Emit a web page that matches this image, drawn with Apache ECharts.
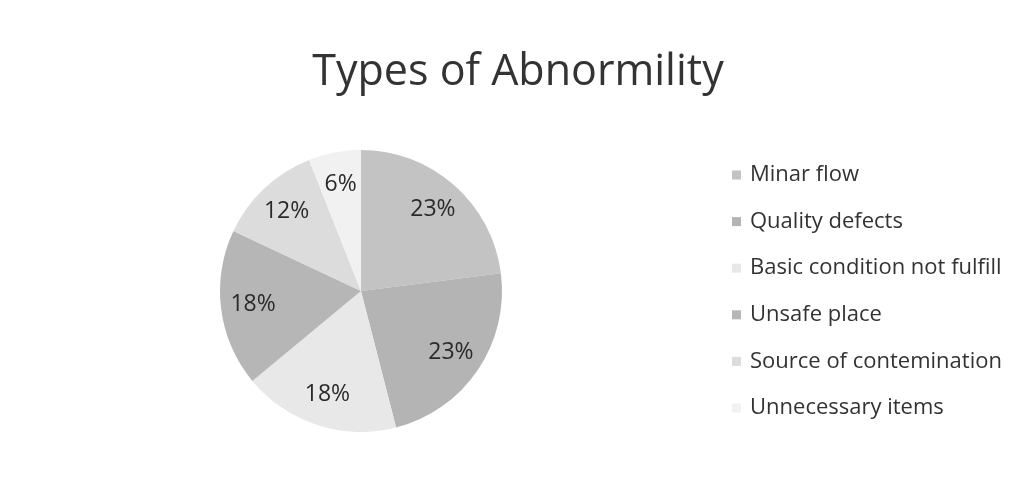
<!DOCTYPE html>
<html>
<head>
<meta charset="utf-8">
<title>Types of Abnormility</title>
<script src="https://cdn.jsdelivr.net/npm/echarts@6/dist/echarts.min.js"></script>
<style>
  html, body { margin: 0; padding: 0; background: #ffffff; }
  #chart { width: 1036px; height: 480px; }
</style>
</head>
<body>
<div id="chart"></div>
<script>
// Abnormality categories and their share (percent)
const categories = [
  'Minar flow',
  'Quality defects',
  'Basic condition not fulfill',
  'Unsafe place',
  'Source of contemination',
  'Unnecessary items'
];
const shares = [23, 23, 18, 18, 12, 6];
const sliceColors = ['#c3c3c3', '#b4b4b4', '#e8e8e8', '#b6b6b6', '#dcdcdc', '#f1f1f1'];

const pieData = categories.map((name, i) => ({
  name: name,
  value: shares[i],
  itemStyle: { color: sliceColors[i] }
}));

const center = [361, 291];
const radius = 141;
const fontFamily = '"Open Sans", "Noto Sans", sans-serif';

const chart = echarts.init(document.getElementById('chart'), null, { renderer: 'canvas' });

chart.setOption({
  backgroundColor: '#ffffff',
  animation: false,
  title: {
    text: 'Types of Abnormility',
    left: 'center',
    top: 46,
    textStyle: {
      fontFamily: fontFamily,
      fontSize: 43,
      fontWeight: 'normal',
      color: '#333333'
    }
  },
  legend: {
    orient: 'vertical',
    left: 727,
    top: 159,
    itemWidth: 9,
    itemHeight: 9,
    itemGap: 24.6,
    icon: 'rect',
    data: categories,
    textStyle: {
      fontFamily: fontFamily,
      fontSize: 22,
      color: '#333333',
      padding: [0, 0, 0, 4]
    }
  },
  series: [
    {
      // filled slices
      type: 'pie',
      center: center,
      radius: radius,
      startAngle: 90,
      clockwise: true,
      label: { show: false },
      labelLine: { show: false },
      itemStyle: { borderWidth: 0 },
      data: pieData
    },
    {
      // percentage labels placed about three quarters of the way out
      type: 'pie',
      center: center,
      radius: [radius * 0.5, radius],
      startAngle: 90,
      clockwise: true,
      silent: true,
      legendHoverLink: false,
      itemStyle: { color: 'rgba(0,0,0,0)', borderWidth: 0 },
      label: {
        show: true,
        position: 'inside',
        formatter: '{d}%',
        fontFamily: fontFamily,
        fontSize: 23,
        color: '#2a2a2a'
      },
      labelLine: { show: false },
      data: categories.map((name, i) => ({ name: name, value: shares[i] }))
    }
  ]
});
</script>
</body>
</html>
